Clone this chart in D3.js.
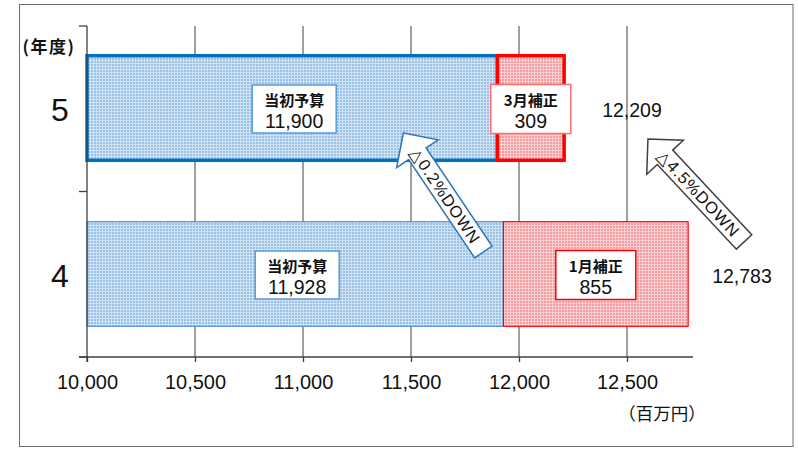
<!DOCTYPE html>
<html><head><meta charset="utf-8">
<script src="https://cdn.jsdelivr.net/npm/d3@7"></script>
<style>
html,body{margin:0;padding:0;background:#fff;}
svg{display:block;}
</style></head>
<body>
<svg id="chart" width="798" height="449"></svg>
<script>
// ---- data ----
const years = ["5", "4"];
const initialBudget = [11900, 11928];
const supplementary = [309, 855];
const initialLabel = "当初予算";
const supplementaryLabels = ["3月補正", "1月補正"];
const totals = [12209, 12783];
const xTicks = [10000, 10500, 11000, 11500, 12000, 12500];
const changeLabels = ["△0.2%DOWN", "△4.5%DOWN"];
const yAxisTitle = "(年度)";
const xAxisTitle = "（百万円）";

// ---- layout ----
const svg = d3.select("#chart");
const x = d3.scaleLinear().domain([10000, 12500]).range([87, 627]);
const yOuter = d3.scaleBand().domain(years).range([26, 357]).padding(0);
const y = d3.scaleBand().domain(years).range([25, 357]).paddingInner(0.37).paddingOuter(0.185);
const yc = d => y(d) + y.bandwidth() / 2;
const axisY = 357;
const numFont = "'Liberation Sans', Arial, sans-serif";
const cjkFont = "'Noto Sans CJK JP', sans-serif";
const fmt = d3.format(",");

// dot texture (white dots over a solid fill)
const defs = svg.append("defs");
const pat = defs.append("pattern").attr("id", "dots").attr("patternUnits", "userSpaceOnUse")
  .attr("width", 3).attr("height", 3);
pat.append("rect").attr("x", 0).attr("y", 0).attr("width", 1).attr("height", 3).attr("fill", "#ffffff").attr("fill-opacity", 0.55);
pat.append("rect").attr("x", 1).attr("y", 0).attr("width", 2).attr("height", 1).attr("fill", "#ffffff").attr("fill-opacity", 0.55);

// frame
svg.append("rect").attr("x", 19.5).attr("y", 4.5).attr("width", 773.5).attr("height", 442)
  .attr("fill", "none").attr("stroke", "#6d6d6d").attr("stroke-width", 1);

// gridlines
svg.append("g").selectAll("line").data(xTicks.filter(t => t !== x.domain()[0])).join("line")
  .attr("x1", d => x(d)).attr("x2", d => x(d))
  .attr("y1", yOuter.range()[0]).attr("y2", axisY)
  .attr("stroke", "#7f7f7f").attr("stroke-width", 1.5);

// x axis
const xAxis = svg.append("g").attr("transform", `translate(0,${axisY})`)
  .call(d3.axisBottom(x).tickValues(xTicks).tickSize(5).tickFormat(fmt));
xAxis.select(".domain").remove();
xAxis.selectAll(".tick line").attr("stroke", "#404040").attr("stroke-width", 1.3);
xAxis.selectAll(".tick text").attr("y", 18).attr("font-family", numFont)
  .attr("font-size", 20).attr("fill", "#111");
xAxis.append("line").attr("x1", 79).attr("x2", 693).attr("y1", 0).attr("y2", 0)
  .attr("stroke", "#404040").attr("stroke-width", 1.5);

// bars
const rows = years.map((yr, i) => ({
  yr, i, init: initialBudget[i], supp: supplementary[i], total: totals[i],
  suppLabel: supplementaryLabels[i]
}));
const thick = [3.5, 1.2];
const x0 = x(x.domain()[0]);
function barLayer(fill, stroke, xs, ws) {
  const g = svg.append("g");
  g.selectAll("rect.base").data(rows).join("rect").attr("class", "base")
    .attr("x", xs).attr("y", d => y(d.yr)).attr("width", ws).attr("height", y.bandwidth())
    .attr("fill", fill);
  g.selectAll("rect.tex").data(rows).join("rect").attr("class", "tex")
    .attr("x", xs).attr("y", d => y(d.yr)).attr("width", ws).attr("height", y.bandwidth())
    .attr("fill", "url(#dots)");
  g.selectAll("rect.edge").data(rows).join("rect").attr("class", "edge")
    .attr("x", xs).attr("y", d => y(d.yr)).attr("width", ws).attr("height", y.bandwidth())
    .attr("fill", "none").attr("stroke", stroke).attr("stroke-width", d => thick[d.i]);
}
barLayer("#98c1e6", d => d.i === 0 ? "#0070c0" : "#4f93d3",
  () => x0, d => x(d.init) - x0);
barLayer("#f59a9e", () => "#ff0000",
  d => x(d.init), d => x(d.init + d.supp) - x(d.init));

// y axis
const ya = svg.append("g");
ya.append("line").attr("x1", x0).attr("x2", x0)
  .attr("y1", yOuter.range()[0]).attr("y2", axisY + 5)
  .attr("stroke", "#404040").attr("stroke-width", 1.3);
const bounds = years.map(d => yOuter(d)).concat([yOuter.range()[1]]);
ya.selectAll("line.tk").data(bounds).join("line").attr("class", "tk")
  .attr("x1", x0 - 8).attr("x2", x0).attr("y1", d => d).attr("y2", d => d)
  .attr("stroke", "#404040").attr("stroke-width", 1.3);
ya.selectAll("text").data(years).join("text")
  .attr("x", 60).attr("y", d => yc(d) + 2).attr("text-anchor", "middle")
  .attr("dominant-baseline", "central").attr("font-family", numFont)
  .attr("font-size", 32).attr("fill", "#111").text(d => d);
svg.append("text").attr("x", 49).attr("y", 45).attr("text-anchor", "middle")
  .attr("dominant-baseline", "central").attr("font-family", cjkFont).attr("font-weight", "bold")
  .attr("font-size", 17).attr("letter-spacing", 1.5).attr("fill", "#111").text(yAxisTitle);
svg.append("text").attr("x", 662).attr("y", 412).attr("text-anchor", "middle")
  .attr("dominant-baseline", "central").attr("font-family", cjkFont)
  .attr("font-size", 17.5).attr("fill", "#111").text(xAxisTitle);

// label boxes
function labelBox(cx, cy, w, h, stroke, line1, line2) {
  const g = svg.append("g");
  g.append("rect").attr("x", cx - w / 2).attr("y", cy - h / 2).attr("width", w).attr("height", h)
    .attr("fill", "#fff").attr("stroke", stroke).attr("stroke-width", 1.5);
  g.append("text").attr("x", cx).attr("y", cy - 10).attr("text-anchor", "middle")
    .attr("dominant-baseline", "central").attr("font-family", cjkFont).attr("font-weight", "bold")
    .attr("font-size", 15).attr("fill", "#111").text(line1);
  g.append("text").attr("x", cx).attr("y", cy + 12).attr("text-anchor", "middle")
    .attr("dominant-baseline", "central").attr("font-family", numFont)
    .attr("font-size", 19.5).attr("fill", "#111").text(line2);
}
rows.forEach(d => {
  const cy = yc(d.yr) + 1;
  labelBox((x0 + x(d.init)) / 2 + 2, cy, 84, 48, "#5b9bd5", initialLabel, fmt(d.init));
  labelBox((x(d.init) + x(d.init + d.supp)) / 2, cy, 80, 49, d.i === 0 ? "#ff6f6f" : "#ff0000", d.suppLabel, fmt(d.supp));
});

// totals
const totalOffsets = [38, 24];
svg.append("g").selectAll("text").data(rows).join("text")
  .attr("x", d => x(d.total) + totalOffsets[d.i]).attr("y", d => yc(d.yr) + 2)
  .attr("dominant-baseline", "central").attr("font-family", numFont)
  .attr("font-size", 19.5).attr("fill", "#111").text(d => fmt(d.total));

// change arrows (from year 4 up to year 5)
const arrows = [
  { tip: [x(11465), yc("5") + 25], tail: [x(11835), yc("4") - 22], stroke: "#2e75b6", label: changeLabels[0] },
  { tip: [x(12597), yc("5") + 31], tail: [x(13042), yc("4") - 32], stroke: "#404040", label: changeLabels[1] }
];
const headLen = 25, headHalf = 25, shaftHalf = 10.5;
arrows.forEach(a => {
  const dx = a.tail[0] - a.tip[0], dy = a.tail[1] - a.tip[1];
  const L = Math.hypot(dx, dy), ang = Math.atan2(dy, dx) * 180 / Math.PI;
  const g = svg.append("g").attr("transform", `translate(${a.tip[0]},${a.tip[1]}) rotate(${ang})`);
  const pts = [[0, 0], [headLen, -headHalf], [headLen, -shaftHalf], [L, -shaftHalf],
               [L, shaftHalf], [headLen, shaftHalf], [headLen, headHalf]];
  g.append("polygon").attr("points", pts.map(p => p.join(",")).join(" "))
    .attr("fill", "#fff").attr("stroke", a.stroke).attr("stroke-width", 1.5)
    .attr("stroke-linejoin", "miter");
  g.append("text").attr("x", L / 2 + 4).attr("y", 0).attr("text-anchor", "middle")
    .attr("dominant-baseline", "central").attr("font-family", numFont)
    .attr("font-size", 16.5).attr("letter-spacing", 1).attr("fill", "#111").text(a.label);
});
</script>
</body></html>
